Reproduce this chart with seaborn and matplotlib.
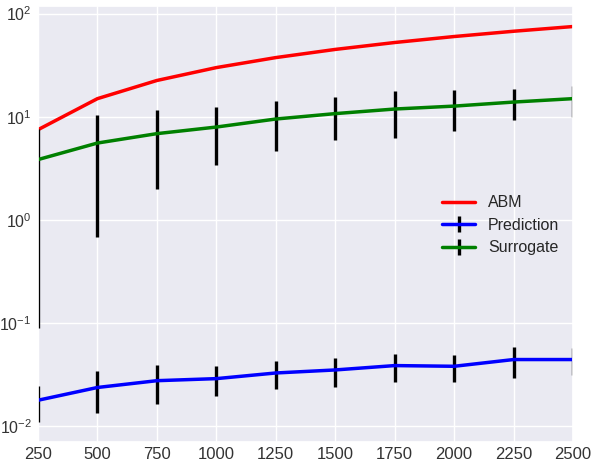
import matplotlib
matplotlib.use("Agg")
import matplotlib.pyplot as plt
import numpy as np
import pandas as pd
import seaborn as sns

# Population sizes on the x axis
n_agents = [250, 500, 750, 1000, 1250, 1500, 1750, 2000, 2250, 2500]

# Run time of the agent-based model
abm = [7.5, 15, 22.5, 30, 37.5, 45, 52.5, 60, 67.5, 75]

# Surrogate run time and its spread
surrogate = [3.85, 5.57, 6.87, 7.96, 9.52, 10.74, 11.9, 12.7, 13.9, 15.0]
surrogate_err = [3.76, 4.88, 4.86, 4.55, 4.86, 4.8, 5.7, 5.4, 4.68, 5.05]

# Prediction run time and its spread
prediction = [0.0179, 0.0238, 0.0277, 0.0290, 0.0329, 0.0352, 0.0388, 0.0382, 0.0444, 0.0444]
prediction_err = [0.0068, 0.0104, 0.0113, 0.0095, 0.0100, 0.0110, 0.0120, 0.0114, 0.0148, 0.0130]

df = pd.DataFrame({"n": n_agents, "abm": abm})

sns.set_theme(style="darkgrid")
plt.rcParams["font.family"] = ["Liberation Sans", "DejaVu Sans"]

fig = plt.figure(figsize=(6.04, 4.68), dpi=100)
ax = fig.add_axes([38 / 604, 1 - 442 / 468, (573 - 38) / 604, (442 - 6) / 468])

sns.lineplot(data=df, x="n", y="abm", ax=ax, color="red", lw=2.5, label="ABM", legend=False)
ax.errorbar(n_agents, prediction, yerr=prediction_err, color="blue", lw=2.5,
            ecolor="black", elinewidth=2.4, capsize=0, label="Prediction")
ax.errorbar(n_agents, surrogate, yerr=surrogate_err, color="green", lw=2.5,
            ecolor="black", elinewidth=2.4, capsize=0, label="Surrogate")

ax.set_yscale("log")
ax.set_xlim(250, 2500)
ax.set_ylim(0.00705, 118.6)
ax.set_xticks(n_agents)
ax.tick_params(axis="x", labelsize=12, colors="#333333", length=0, pad=3.5)
ax.tick_params(axis="y", labelsize=11.5, colors="#333333", length=0, pad=4.5)
ax.set_xlabel("Number of agents in the model", fontsize=12, color="#333333", labelpad=6)
ax.set_ylabel("")
ax.minorticks_off()

ax.legend(loc="center left", bbox_to_anchor=(0.728, 0.497), frameon=False,
          fontsize=11.5, handlelength=2.1, handletextpad=0.8, labelspacing=0.47)

fig.savefig("out.png", dpi=100)
